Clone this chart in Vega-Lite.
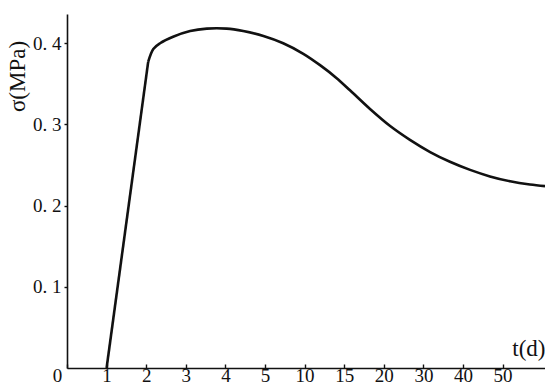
{
  "$schema": "https://vega.github.io/schema/vega-lite/v6.json",
  "autosize": {"type": "none"},
  "padding": {"left": 67, "top": 14, "right": 0, "bottom": 18},
  "width": 478,
  "height": 354,
  "background": "white",
  "config": {
    "view": {"stroke": null},
    "font": "Liberation Serif",
    "axis": {
      "grid": false,
      "domainColor": "#111",
      "domainWidth": 1.6,
      "tickColor": "#111",
      "tickWidth": 1.4,
      "labelColor": "#111",
      "labelFont": "Liberation Serif",
      "labelFontSize": 19,
      "titleColor": "#111",
      "titleFont": "Liberation Serif",
      "titleFontWeight": "normal"
    }
  },
  "data": {
    "values": [
      {"t": 1.0, "sigma": 0.0},
      {"t": 2.05, "sigma": 0.377},
      {"t": 2.18, "sigma": 0.393},
      {"t": 2.35, "sigma": 0.400},
      {"t": 2.68, "sigma": 0.408},
      {"t": 3.11, "sigma": 0.415},
      {"t": 3.53, "sigma": 0.418},
      {"t": 4.03, "sigma": 0.418},
      {"t": 4.45, "sigma": 0.415},
      {"t": 4.96, "sigma": 0.409},
      {"t": 7.3, "sigma": 0.400},
      {"t": 9.84, "sigma": 0.387},
      {"t": 11.95, "sigma": 0.373},
      {"t": 14.05, "sigma": 0.357},
      {"t": 15.73, "sigma": 0.342},
      {"t": 18.26, "sigma": 0.319},
      {"t": 21.6, "sigma": 0.298},
      {"t": 26.6, "sigma": 0.281},
      {"t": 31.7, "sigma": 0.266},
      {"t": 36.7, "sigma": 0.254},
      {"t": 41.8, "sigma": 0.244},
      {"t": 46.8, "sigma": 0.236},
      {"t": 51.9, "sigma": 0.230},
      {"t": 56.9, "sigma": 0.226},
      {"t": 60.7, "sigma": 0.224}
    ]
  },
  "encoding": {
    "x": {
      "field": "t",
      "type": "quantitative",
      "scale": {
        "domain": [0, 1, 2, 3, 4, 5, 10, 15, 20, 30, 40, 50, 60.7],
        "range": [0, 39.6, 79.2, 118.8, 158.4, 198, 237.6, 277.2, 316.8, 356.4, 396, 435.6, 478]
      },
      "axis": {
        "values": [0, 1, 2, 3, 4, 5, 10, 15, 20, 30, 40, 50],
        "tickSize": -4,
        "labelPadding": 2,
        "labelBaseline": "top",
        "labelOffset": {"condition": {"test": "datum.value == 0", "value": -10}, "value": 0},
        "labelFlush": false,
        "labelOverlap": false,
        "title": "t(d)",
        "titleFontSize": 23,
        "titleX": 478,
        "titleY": -8,
        "titleAlign": "right",
        "titleBaseline": "bottom",
        "titleAnchor": "end"
      }
    },
    "y": {
      "field": "sigma",
      "type": "quantitative",
      "scale": {"domain": [0, 0.436], "nice": false, "zero": true},
      "axis": {
        "values": [0.1, 0.2, 0.3, 0.4],
        "labelExpr": "replace(format(datum.value, '.1f'), '.', '. ')",
        "tickSize": 3,
        "labelPadding": 3,
        "title": "σ(MPa)",
        "titleFontSize": 23,
        "titleAngle": -90,
        "titleX": -50,
        "titleY": 62,
        "titleAlign": "center",
        "titleBaseline": "middle"
      }
    }
  },
  "layer": [
    {
      "transform": [{"filter": "datum.t <= 2.05"}],
      "mark": {"type": "line", "color": "#111", "strokeWidth": 2.6, "interpolate": "linear", "clip": true}
    },
    {
      "transform": [{"filter": "datum.t >= 2.05"}],
      "mark": {"type": "line", "color": "#111", "strokeWidth": 2.6, "interpolate": "catmull-rom", "clip": true}
    }
  ]
}
